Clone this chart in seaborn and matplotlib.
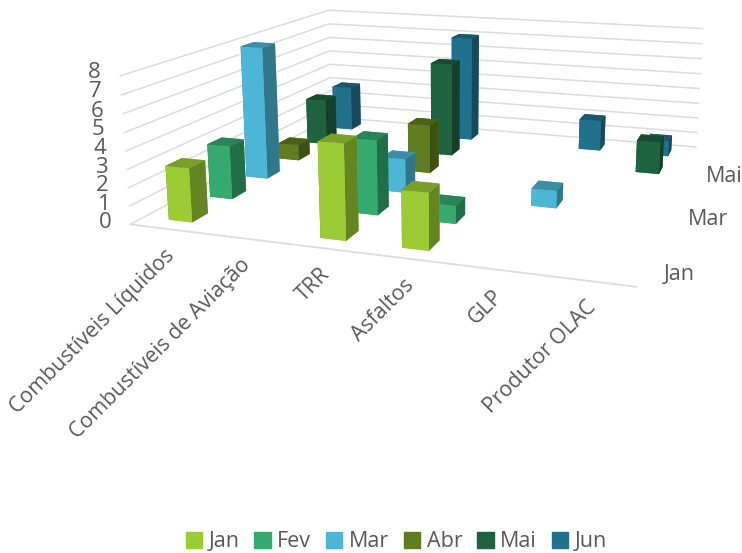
import numpy as np
import matplotlib
matplotlib.use("Agg")
import matplotlib.pyplot as plt
from matplotlib.patches import Patch
from mpl_toolkits.mplot3d import proj3d
import seaborn as sns

sns.set_theme(style="white")
plt.rcParams['font.family'] = ['Open Sans', 'DejaVu Sans']

categories = ["Combustíveis Líquidos", "Combustíveis de Aviação", "TRR", "Asfaltos", "GLP", "Produtor OLAC"]
months = ["Jan", "Fev", "Mar", "Abr", "Mai", "Jun"]
colors = ["#9BCC36", "#35A96F", "#4DB5D5", "#5D7D1E", "#1F6240", "#21708C"]
jan = [3.0, 0, 5.1, 3.0, 0, 0]
fev = [3.1, 0, 4.2, 1.0, 0, 0]
mar = [8.0, 0, 2.0, 0, 1.0, 0]
abr = [1.0, 0, 3.0, 0, 0, 0]
mai = [3.0, 0, 6.0, 0, 0, 2.0]
jun = [3.0, 0, 7.0, 0, 2.0, 1.0]
series = [jan, fev, mar, abr, mai, jun]
z_ticks = list(range(9))
depth_labels = {0: "Jan", 2: "Mar", 4: "Mai"}
TXT = "#595959"
GRID = "#DCDCDC"

fig = plt.figure(figsize=(7.42, 5.53), dpi=100)
ax = fig.add_axes([0.1716, 0.2125, 0.8378, 1.1241], projection="3d")
ax.set_proj_type("persp", focal_length=0.3234)
ax.view_init(elev=13.54, azim=-71.38)
ax.set_box_aspect((1.55, 1.4796, 0.4641))


def faces(c):
    rgb = np.array(matplotlib.colors.to_rgb(c))
    bottom, top, side = rgb, rgb * 0.78, rgb * 0.65
    return [bottom, top, rgb, rgb, side, side]


bw, bd = 0.32, 0.38
for j, vals in reversed(list(enumerate(series))):
    for i, v in enumerate(vals):
        if v > 0:
            ax.bar3d(i + 0.5 - bw / 2, j + 0.5 - bd / 2, 0, bw, bd, v, color=faces(colors[j]),
                     shade=False, edgecolor="none", zsort="max")

ax.set_xlim(0, 6); ax.set_ylim(0, 6); ax.set_zlim(0, 8)
ax.set_xticks([]); ax.set_yticks([]); ax.set_zticks(z_ticks)
ax.zaxis.set_ticks_position("lower")
ax.set_zticklabels([str(t) for t in z_ticks], fontsize=16, color=TXT, va="baseline")
ax.tick_params(axis="z", length=0, pad=0)
for a in (ax.xaxis, ax.yaxis, ax.zaxis):
    a.set_pane_color((1, 1, 1, 0))
    a._axinfo["grid"].update(color=GRID, linewidth=1.1)
    a._axinfo["tick"]["inward_factor"] = 0
    a._axinfo["tick"]["outward_factor"] = 0
ax.xaxis.line.set_color(GRID); ax.xaxis.line.set_linewidth(1.3)
ax.yaxis.line.set_color((1, 1, 1, 0)); ax.zaxis.line.set_color((1, 1, 1, 0))
ax.grid(True)

fig.canvas.draw()
M = ax.get_proj()


def to2d(x, y, z):
    px, py, _ = proj3d.proj_transform(x, y, z, M)
    return px, py


for i, c in enumerate(categories):
    ax.annotate(c, xy=to2d(i + 0.5, 0, 0), xytext=(3.5, -17), textcoords="offset points",
                rotation=45, ha="right", va="center", rotation_mode="anchor",
                fontsize=15.3, color=TXT, annotation_clip=False)
for k, lab in depth_labels.items():
    ax.annotate(lab, xy=to2d(6, k + 0.5, 0), xytext=(14.5, -3), textcoords="offset points",
                ha="left", va="center", fontsize=15.5, color=TXT, annotation_clip=False)

handles = [Patch(color=c, label=m) for c, m in zip(colors, months)]
fig.legend(handles=handles, loc="lower center", ncol=6, frameon=False, fontsize=15.5,
           labelcolor=TXT, handlelength=0.75, handleheight=0.75, handletextpad=0.3,
           columnspacing=0.7, bbox_to_anchor=(0.534, -0.034))
fig.savefig("out.png", dpi=100)
